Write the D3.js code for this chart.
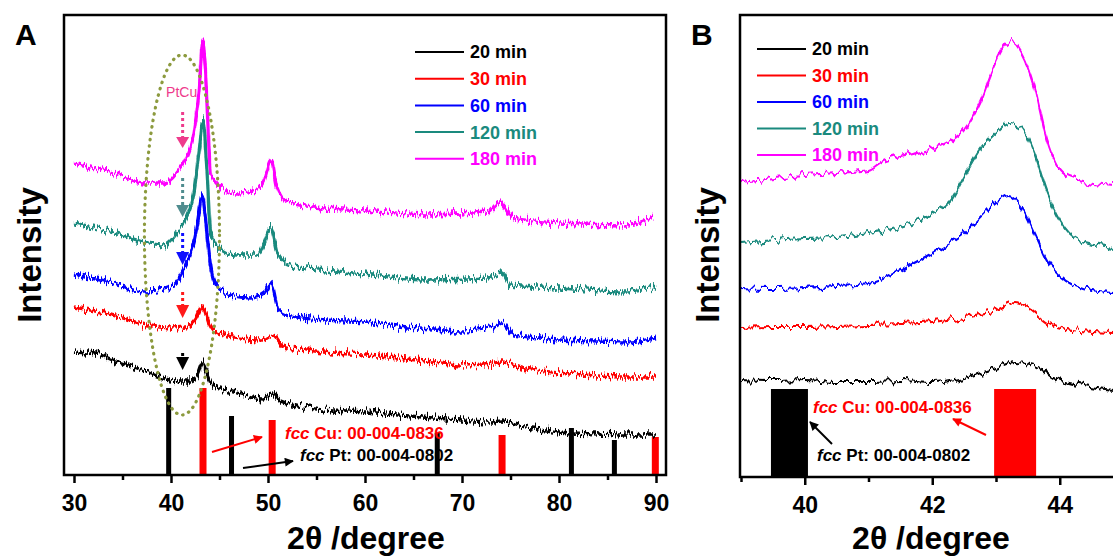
<!DOCTYPE html>
<html>
<head>
<meta charset="utf-8">
<script src="https://cdn.jsdelivr.net/npm/d3@7/dist/d3.min.js"></script>
<style>
html, body { margin: 0; padding: 0; background: #fff; }
svg { display: block; font-family: Arial, "Liberation Sans", sans-serif; }
</style>
</head>
<body>
<svg id="chart" width="1113" height="556"></svg>
<script>
// ---- data (2theta in degree, intensity in a.u.) ----
const seriesNames = ["20 min", "30 min", "60 min", "120 min", "180 min"];

// panel A: 30 - 90 degree
const a20 = [[30,123],[32.7,120],[34,115],[36.2,108],[38,101],[39.9,95],[41,94],[42,94],[42.7,99],[43.3,112],[43.8,99],[44.3,89],[46.4,83],[48,79],[49.5,76],[50.4,81],[51.3,74],[53,70],[56.7,65],[60,63],[63.4,60],[67,57],[70,55],[73,53],[74.1,54],[75.5,50],[78,46],[80,43],[84,41],[87,40],[90,40]];
const a30 = [[30,168],[32.7,163],[35,157],[37.5,150],[39.9,147],[41.5,148],[42.5,155],[43.3,169],[43.9,153],[44.5,144],[46.4,138],[49.5,135],[50.5,140],[51.6,129],[54,125],[56.7,122],[60,120],[63.4,117],[67,113],[70,110],[73.3,112],[74.1,113],[76.6,107],[80,102],[84,99],[87,98],[90,98]];
const a60 = [[30,200],[34.1,192],[37.2,183],[39.3,185],[40.6,193],[41.3,205],[42.4,235],[42.8,255],[43.2,280],[43.5,262],[43.8,232],[44.5,192],[45.5,182],[48.2,177],[49.6,182],[50.3,192],[51.1,165],[52.9,158],[56,155],[59.9,153],[63.4,149],[67,146],[70,144],[73.3,148],[74.1,152],[75.3,140],[78,137],[80,135],[84,134],[87,133],[90,137]];
const a120 = [[30,252],[34.1,243],[37.2,233],[39.3,230],[40.6,242],[41.6,258],[42.4,285],[42.9,325],[43.3,355],[43.7,305],[44.1,242],[45.2,225],[46.8,220],[48.9,220],[49.6,232],[50.3,247],[51,222],[52.3,210],[56,205],[59.9,201],[66.4,195],[72.6,197],[74.1,202],[75,190],[80,187],[87,183],[89.7,188],[90,189]];
const a180 = [[30,312],[34.1,302],[37.2,292],[39.3,292],[40.6,302],[41.6,318],[42.4,345],[42.9,385],[43.3,435],[43.6,395],[44.1,302],[45.2,287],[46.8,282],[48.9,285],[49.6,295],[50.3,315],[50.9,288],[52,273],[54.7,268],[59.9,265],[66.4,260],[72.6,263],[73.9,273],[75.3,257],[80.1,252],[87,250],[89.7,258]];

// panel B: 39 - 45 degree (zoom of the 43 degree peak)
const b20 = [[39,97],[39.5,96],[40,97],[40.5,95],[41,95],[41.5,96],[42,94],[42.5,99],[43,109],[43.3,115],[43.6,112],[43.9,99],[44.3,92],[44.85,87]];
const b30 = [[39,149],[39.5,150],[40,150],[40.5,151],[41,152],[41.5,153],[42,155],[42.5,160],[43,167],[43.3,174],[43.5,169],[43.8,154],[44.2,147],[44.85,144]];
const b60 = [[39,189],[39.5,188],[40,189],[40.5,191],[41,193],[41.5,207],[42,224],[42.5,244],[42.8,264],[43,275],[43.2,282],[43.4,270],[43.6,244],[43.8,217],[44,202],[44.5,187],[44.85,185]];
const b120 = [[39,234],[40,239],[40.5,240],[41,244],[41.5,250],[42,264],[42.3,277],[42.5,300],[42.75,327],[43,344],[43.2,354],[43.4,349],[43.6,324],[43.8,284],[44,257],[44.3,237],[44.85,230]];
const b180 = [[39,295],[40,302],[40.5,304],[41,307],[41.2,315],[41.7,324],[42.25,335],[42.5,347],[42.76,377],[42.96,410],[43.15,432],[43.25,435],[43.4,424],[43.6,390],[43.8,337],[44.05,304],[44.3,297],[44.85,292]];

// reference patterns
const ptPeaks = [39.76, 46.24, 67.45, 81.28, 85.71];
const ptHeights = [87, 59, 42, 47, 35];
const cuPeaks = [43.30, 50.43, 74.13, 89.93];
const cuHeights = [87, 55, 40, 38];

const ticksA = [30, 40, 50, 60, 70, 80, 90];
const minorA = [35, 45, 55, 65, 75, 85];
const ticksB = [40, 42, 44];
const minorB = [39, 41, 43, 45];

// PtCu marker arrows at 41.2 degree: [dotted start, head start, head end]
const markerAt = 41.2;
const markerArrows = [[122, 118, 105], [183, 170, 157], [242, 223, 210], [297, 270, 258], [363, 338, 327]];

const colors = ["#000000", "#ff0000", "#0000ff", "#1a8a7e", "#ff00ff"];
const arrowColors = ["#000000", "#ff1a1a", "#1010ff", "#4f8c8e", "#ee3b8c"];

const svg = d3.select("#chart");
const defs = svg.append("defs");

// jitter texture for the XRD traces
const noiseFilter = (id, fx, fy, scale, seed) => {
    const f = defs.append("filter").attr("id", id)
        .attr("filterUnits", "userSpaceOnUse")
        .attr("x", 0).attr("y", 0).attr("width", 1113).attr("height", 556)
        .attr("color-interpolation-filters", "sRGB");
    f.append("feTurbulence").attr("type", "fractalNoise")
        .attr("baseFrequency", `${fx} ${fy}`).attr("numOctaves", 3)
        .attr("seed", seed).attr("result", "t");
    f.append("feColorMatrix").attr("in", "t").attr("type", "matrix")
        .attr("values", "0 0 0 0 0.5  0 1 0 0 0  0 0 0 0 0  0 0 0 0 1")
        .attr("result", "m");
    f.append("feDisplacementMap").attr("in", "SourceGraphic").attr("in2", "m")
        .attr("scale", scale).attr("xChannelSelector", "R").attr("yChannelSelector", "G");
};
noiseFilter("noiseA", 0.6, 0.05, 14, 3);
noiseFilter("noiseB", 0.2, 0.03, 13, 7);

const addArrowHead = (id, color) => {
    defs.append("marker").attr("id", id)
        .attr("viewBox", "0 0 10 10").attr("refX", 9).attr("refY", 5)
        .attr("markerWidth", 10).attr("markerHeight", 9)
        .attr("markerUnits", "userSpaceOnUse").attr("orient", "auto")
        .append("path").attr("d", "M0,0 L10,5 L0,10 z").attr("fill", color);
};
addArrowHead("headBlack", "#000");
addArrowHead("headRed", "#ff0000");

const drawAxis = (g, x, y0, major, minor) => {
    g.append("g")
        .attr("transform", `translate(0,${y0})`)
        .call(d3.axisBottom(x).tickValues(minor).tickSize(5).tickFormat(""))
        .call(s => s.select(".domain").remove())
        .selectAll("line").attr("stroke", "#000").attr("stroke-width", 2.5);
    const ax = g.append("g")
        .attr("transform", `translate(0,${y0})`)
        .call(d3.axisBottom(x).tickValues(major).tickSize(8).tickPadding(12).tickFormat(d3.format("d")))
        .call(s => s.select(".domain").remove());
    ax.selectAll("line").attr("stroke", "#000").attr("stroke-width", 2.5);
    ax.selectAll("text").attr("fill", "#000")
        .style("font-size", "23px").style("font-weight", "bold")
        .style("font-family", "Arial, 'Liberation Sans', sans-serif");
};

const drawLegend = (g, x0, y0, dy) => {
    seriesNames.forEach((name, i) => {
        g.append("line")
            .attr("x1", x0).attr("x2", x0 + 49)
            .attr("y1", y0 + i * dy).attr("y2", y0 + i * dy)
            .attr("stroke", colors[i]).attr("stroke-width", 2);
        g.append("text")
            .attr("x", x0 + 55).attr("y", y0 + i * dy)
            .attr("dy", "0.36em")
            .attr("fill", colors[i])
            .style("font-size", "18px").style("font-weight", "bold")
            .text(name);
    });
};

const refLabel = (g, x, y, color, text) => {
    const t = g.append("text").attr("x", x).attr("y", y).attr("dy", "0.36em")
        .attr("fill", color).style("font-size", "17px").style("font-weight", "bold");
    t.append("tspan").style("font-style", "italic").text("fcc");
    t.append("tspan").text(" " + text);
};

//  ****************************** panel A ******************************
const drawPanelA = () => {
    const left = 64, right = 666, top = 15, bottom = 475;
    const x = d3.scaleLinear().domain([28.97, 91.03]).range([left, right]);
    const y = d3.scaleLinear().domain([0, 460]).range([bottom, top]);
    const g = svg.append("g");

    defs.append("clipPath").attr("id", "clipA")
        .append("rect").attr("x", left).attr("y", top).attr("width", right - left).attr("height", bottom - top);

    // reference bars
    g.selectAll(".pt").data(ptPeaks).enter().append("rect")
        .attr("x", d => x(d) - 2.5).attr("width", 5)
        .attr("y", (d, i) => y(ptHeights[i]))
        .attr("height", (d, i) => y(0) - y(ptHeights[i]))
        .attr("fill", "#000");
    g.selectAll(".cu").data(cuPeaks).enter().append("rect")
        .attr("x", d => x(d) - 3.5).attr("width", 7)
        .attr("y", (d, i) => y(cuHeights[i]))
        .attr("height", (d, i) => y(0) - y(cuHeights[i]))
        .attr("fill", "#ff0000");

    // traces
    const line = d3.line().x(d => x(d[0])).y(d => y(d[1])).curve(d3.curveMonotoneX);
    const traces = g.append("g").attr("clip-path", "url(#clipA)");
    [a20, a30, a60, a120, a180].forEach((s, i) => {
        traces.append("path").datum(s).attr("d", line)
            .attr("fill", "none").attr("stroke", colors[i]).attr("stroke-width", 3.3)
            .attr("stroke-linejoin", "round")
            .attr("filter", "url(#noiseA)");
    });

    // dotted ellipse round the PtCu shoulder
    g.append("ellipse")
        .attr("cx", x(41.13)).attr("cy", y(240))
        .attr("rx", x(45.0) - x(41.13)).attr("ry", y(60) - y(240))
        .attr("fill", "none").attr("stroke", "#8c9a3e").attr("stroke-width", 3.2)
        .attr("stroke-linecap", "round").attr("stroke-dasharray", "0.5 6");

    // dotted arrows
    markerArrows.forEach((a, i) => {
        const cx = x(markerAt);
        g.append("line").attr("x1", cx).attr("x2", cx)
            .attr("y1", y(a[0])).attr("y2", y(a[1]))
            .attr("stroke", arrowColors[i]).attr("stroke-width", 3)
            .attr("stroke-dasharray", "3 3");
        g.append("path")
            .attr("d", `M${cx - 6.5},${y(a[1])} L${cx + 6.5},${y(a[1])} L${cx},${y(a[2])} Z`)
            .attr("fill", arrowColors[i]);
    });
    g.append("text").attr("x", x(markerAt) - 1).attr("y", y(383)).attr("dy", "0.36em")
        .attr("text-anchor", "middle").attr("fill", "#ee3b8c")
        .style("font-size", "14px").text("PtCu");

    // reference labels
    refLabel(g, 285, 433, "#ff0000", "Cu: 00-004-0836");
    refLabel(g, 300, 455, "#000", "Pt: 00-004-0802");
    g.append("line").attr("x1", 212).attr("y1", 452).attr("x2", 262).attr("y2", 437)
        .attr("stroke", "#ff0000").attr("stroke-width", 2).attr("marker-end", "url(#headRed)");
    g.append("line").attr("x1", 243).attr("y1", 468).attr("x2", 293).attr("y2", 461)
        .attr("stroke", "#000").attr("stroke-width", 2).attr("marker-end", "url(#headBlack)");

    drawLegend(g, 415, 52, 26.7);

    g.append("rect").attr("x", left).attr("y", top).attr("width", right - left).attr("height", bottom - top)
        .attr("fill", "none").attr("stroke", "#000").attr("stroke-width", 2.5);
    drawAxis(g, x, bottom, ticksA, minorA);

    g.append("text").attr("x", 15).attr("y", 45).style("font-size", "30px").style("font-weight", "bold").text("A");
    g.append("text").attr("transform", "translate(41,255) rotate(-90)").attr("text-anchor", "middle")
        .style("font-size", "33px").style("font-weight", "bold").text("Intensity");
    g.append("text").attr("x", 366).attr("y", 549).attr("text-anchor", "middle")
        .style("font-size", "32px").style("font-weight", "bold").text("2θ /degree");
};

//  ****************************** panel B ******************************
const drawPanelB = () => {
    const left = 740, top = 15, bottom = 477;
    const x = d3.scaleLinear().domain([39, 45]).range([741, 1123.5]);
    const y = d3.scaleLinear().domain([0, 462]).range([bottom, top]);
    const g = svg.append("g");

    defs.append("clipPath").attr("id", "clipB")
        .append("rect").attr("x", left).attr("y", top).attr("width", 400).attr("height", bottom - top);

    g.append("rect").attr("x", x(ptPeaks[0]) - 18.5).attr("width", 37)
        .attr("y", y(88)).attr("height", y(0) - y(88)).attr("fill", "#000");
    g.append("rect").attr("x", x(cuPeaks[0]) - 21).attr("width", 42)
        .attr("y", y(88)).attr("height", y(0) - y(88)).attr("fill", "#ff0000");

    const line = d3.line().x(d => x(d[0])).y(d => y(d[1])).curve(d3.curveMonotoneX);
    const traces = g.append("g").attr("clip-path", "url(#clipB)");
    [b20, b30, b60, b120, b180].forEach((s, i) => {
        traces.append("path").datum(s).attr("d", line)
            .attr("fill", "none").attr("stroke", colors[i]).attr("stroke-width", 2.2)
            .attr("stroke-linejoin", "round")
            .attr("filter", "url(#noiseB)");
    });

    refLabel(g, 813, 407, "#ff0000", "Cu: 00-004-0836");
    refLabel(g, 817, 455, "#000", "Pt: 00-004-0802");
    g.append("line").attr("x1", 986).attr("y1", 435).attr("x2", 953).attr("y2", 419)
        .attr("stroke", "#ff0000").attr("stroke-width", 2).attr("marker-end", "url(#headRed)");
    g.append("line").attr("x1", 832).attr("y1", 444).attr("x2", 810).attr("y2", 422)
        .attr("stroke", "#000").attr("stroke-width", 2).attr("marker-end", "url(#headBlack)");

    drawLegend(g, 757, 49, 26.5);

    g.append("rect").attr("x", left).attr("y", top).attr("width", 383).attr("height", bottom - top)
        .attr("fill", "none").attr("stroke", "#000").attr("stroke-width", 2.5);
    drawAxis(g, x, bottom, ticksB, minorB);

    g.append("text").attr("x", 691).attr("y", 45).style("font-size", "30px").style("font-weight", "bold").text("B");
    g.append("text").attr("transform", "translate(719,255) rotate(-90)").attr("text-anchor", "middle")
        .style("font-size", "33px").style("font-weight", "bold").text("Intensity");
    g.append("text").attr("x", 931).attr("y", 549).attr("text-anchor", "middle")
        .style("font-size", "32px").style("font-weight", "bold").text("2θ /degree");
};

drawPanelA();
drawPanelB();
</script>
</body>
</html>
